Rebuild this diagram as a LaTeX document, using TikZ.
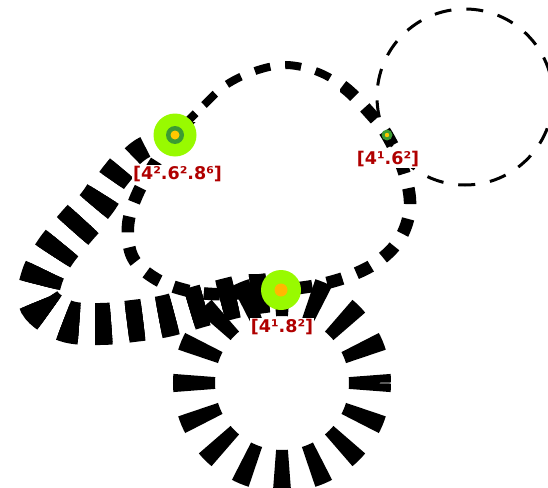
\documentclass[tikz,border=0pt]{standalone}
\usepackage{fontspec}
\newfontfamily\labfont{DejaVu Sans}
\definecolor{labred}{RGB}{176,0,0}
\definecolor{lgreen}{RGB}{152,250,0}
\definecolor{dgreen}{RGB}{60,155,50}
\definecolor{ycore}{RGB}{255,200,0}
\definecolor{ocore}{RGB}{255,185,0}
\begin{document}
\begin{tikzpicture}[x=1pt,y=-1pt,
  loopdash/.style={dash pattern=on 16 off 15},
  thickdash/.style={dash pattern=on 16 off 16},
  ringdash/.style={line width=42, dash pattern=on 15 off 19.56, dash phase=7.5},
  thindash/.style={line width=3, dash pattern=on 17 off 15},
  biglime/.style={circle, fill=lgreen, inner sep=0pt, minimum size=#1},
  lab/.style={text=labred, fill=white, font=\labfont\bfseries\fontsize{17.5}{20}\selectfont, inner sep=1pt}]
\useasboundingbox (0,0) rectangle (548,487);
\coordinate (A) at (175,135);
\coordinate (B) at (387,135);
\coordinate (C) at (281,290);
\def\looppath{plot[smooth cycle, tension=0.6] coordinates {(A) (204,105) (226,85) (255,71) (286,65) (318,72) (345,88) (368,111) (B) (404,172) (410,206) (401,237) (380,260) (352,275) (318,285) (C) (245,293) (212,294) (185,290) (156,279) (133,258) (128,226) (137,195) (155,163)}}
\def\thickpath{plot[smooth, tension=0.6] coordinates {(A) (140,150) (115,176) (97,203) (76,227) (56,251) (42,277) (40,303) (66,321) (100,324) (133,321) (166,316) (205,305) (245,295) (C)}}
% top-right dashed circle
\draw[thindash] (465,97) circle (88);
% loop
\begin{scope}
  \clip (0,0) rectangle (340,122);
  \draw[line width=8, loopdash] \looppath;
\end{scope}
\begin{scope}
  \clip (340,0) rectangle (600,600) (0,122) rectangle (340,600);
  \draw[line width=12.5, loopdash] \looppath;
\end{scope}
% thick curve
\draw[line width=22, thickdash] \thickpath;
\begin{scope}
  \clip (-35,43) -- (525,463) -- (600,700) -- (-200,700) -- cycle;
  \draw[line width=30, thickdash] \thickpath;
\end{scope}
\begin{scope}
  \clip (-54,70) -- (186,250) -- (600,250) -- (600,700) -- (-200,700) -- cycle;
  \draw[line width=37, thickdash] \thickpath;
\end{scope}
\begin{scope}
  \clip (-73,94) -- (167,274) -- (600,274) -- (600,700) -- (-200,700) -- cycle;
  \draw[line width=42, thickdash] \thickpath;
\end{scope}
% bottom ring
\draw[ringdash] (282,383) circle (88);
% vertices
\node[biglime=43] (nA) at (A) {};
\fill[dgreen] (nA.center) circle (9);
\fill[ycore] (nA.center) circle (4.5);
\node[circle, fill=dgreen, inner sep=0pt, minimum size=11] (nB) at (B) {};
\fill[ycore] (nB.center) circle (2.2);
\node[biglime=40] (nC) at (C) {};
\fill[ocore] (nC.center) circle (6.5);
% labels
\node[lab] (lA) at (177.5,174) {[4².6².8⁶]};
\node[lab] (lB) at (388,159) {[4¹.6²]};
\node[lab] (lC) at (282,327) {[4¹.8²]};
\end{tikzpicture}
\end{document}
